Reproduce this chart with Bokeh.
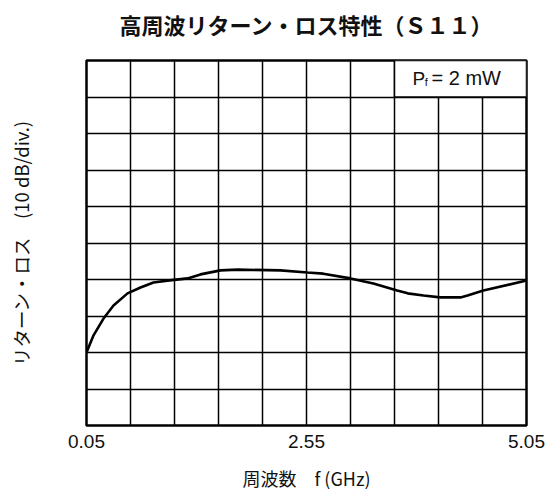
from bokeh.plotting import figure
from bokeh.models import FixedTicker, Range1d, Label, LinearAxis
from bokeh.embed import file_html
from bokeh.resources import INLINE

# data: frequency (GHz) and return loss (dB, 10 dB/div, top of chart = 0)
freq_ghz = [0.05, 0.13, 0.243, 0.357, 0.516, 0.664, 0.811, 0.97, 1.198, 1.345,
            1.573, 1.766, 2.255, 2.56, 2.74, 3.05, 3.31, 3.58, 3.70, 3.88,
            4.07, 4.30, 4.38, 4.56, 5.05]
return_loss_db = [-80.0, -75.3, -70.7, -67.1, -63.8, -62.2, -60.8, -60.3, -59.7, -58.6,
                  -57.5, -57.3, -57.5, -58.1, -58.4, -59.7, -61.1, -63.0, -63.8, -64.4,
                  -64.9, -64.9, -64.4, -63.0, -60.3]

x_tick_values = [0.05, 2.55, 5.05]
x_tick_labels = ["0.05", "2.55", "5.05"]
x_grid_values = [0.05 + 0.5 * i for i in range(11)]
y_grid_values = [-10.0 * i for i in range(11)]

title_text = "高周波リターン・ロス特性（Ｓ１１）"
x_label = "周波数　f (GHz)"
y_label = "リターン・ロス　(10 dB/div.)"

JP = "Noto Sans CJK JP"
LAT = "Liberation Sans"

p = figure(width=547, height=494, output_backend="svg", toolbar_location=None,
           x_range=Range1d(0.05, 5.05), y_range=Range1d(-100, 0),
           min_border_left=86, min_border_right=21, min_border_top=60, min_border_bottom=69)

p.outline_line_color = "black"
p.outline_line_width = 2.5
p.background_fill_color = "white"
p.border_fill_color = "white"

# bottom x axis
xa = p.below[0]
xa.ticker = FixedTicker(ticks=x_tick_values)
xa.major_label_overrides = {v: s for v, s in zip(x_tick_values, x_tick_labels)}
xa.major_label_text_font = LAT
xa.major_label_text_font_size = "19px"
xa.major_label_text_color = "#111111"
xa.major_label_standoff = 3
xa.major_tick_line_color = None
xa.minor_tick_line_color = None
xa.axis_line_color = None
xa.axis_label = x_label
xa.axis_label_text_font = JP
xa.axis_label_text_font_size = "18px"
xa.axis_label_text_font_style = "normal"
xa.axis_label_text_color = "#111111"
xa.axis_label_standoff = 14

# y axis (no tick labels)
ya = p.left[0]
ya.ticker = FixedTicker(ticks=[])
ya.major_tick_line_color = None
ya.minor_tick_line_color = None
ya.axis_line_color = None
ya.axis_label = y_label
ya.axis_label_text_font = JP
ya.axis_label_text_font_size = "18.5px"
ya.axis_label_text_font_style = "normal"
ya.axis_label_text_color = "#111111"
ya.axis_label_standoff = 53

# grid
p.xgrid.ticker = FixedTicker(ticks=x_grid_values)
p.ygrid.ticker = FixedTicker(ticks=y_grid_values)
for g in (p.xgrid, p.ygrid):
    g.grid_line_color = "black"
    g.grid_line_width = 1.5
    g.grid_line_alpha = 1.0

# title drawn as the label of a tick-less axis above the frame
top_axis = LinearAxis(ticker=FixedTicker(ticks=[]), axis_line_color=None,
                      major_tick_line_color=None, minor_tick_line_color=None,
                      major_label_text_font_size="0px",
                      axis_label=title_text, axis_label_text_font=JP,
                      axis_label_text_font_size="22px", axis_label_text_font_style="bold",
                      axis_label_text_color="#111111", axis_label_standoff=21)
p.add_layout(top_axis, "above")

# curve
p.line(freq_ghz, return_loss_db, line_color="black", line_width=2.6)

# condition box (top-right, 3 columns x 1 row)
p.quad(left=x_grid_values[7], right=x_grid_values[10], bottom=y_grid_values[1], top=y_grid_values[0],
       fill_color="white", line_color="black", line_width=1.5)
p.add_layout(Label(x=3.755, y=-4.9, text="P", text_font=LAT, text_font_size="19px",
                   text_baseline="middle", text_color="#111111"))
p.add_layout(Label(x=3.895, y=-5.9, text="f", text_font=LAT, text_font_size="11px",
                   text_baseline="middle", text_color="#111111"))
p.add_layout(Label(x=3.97, y=-4.9, text="= 2 mW", text_font=LAT, text_font_size="20px",
                   text_baseline="middle", text_color="#111111"))

open("out.html", "w").write(file_html(p, INLINE))
